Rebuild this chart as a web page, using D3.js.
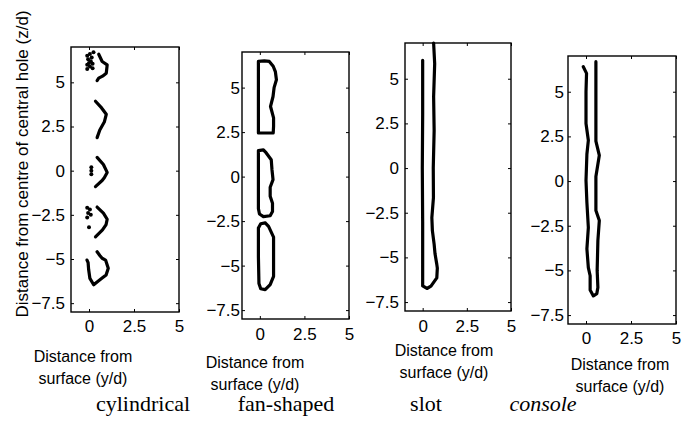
<!DOCTYPE html>
<html>
<head>
<meta charset="utf-8">
<script src="https://cdn.jsdelivr.net/npm/d3@7"></script>
<style>
  body { margin: 0; background: #fff; }
  svg { display: block; }
</style>
</head>
<body>
<svg id="chart" width="689" height="422"></svg>
<script>
const xTicks = [0, 2.5, 5];
const yTicks = [5, 2.5, 0, -2.5, -5, -7.5];
const xDomain = [-1, 5];
const yDomain = [-8, 7];
const captions = ['cylindrical', 'fan-shaped', 'slot', 'console'];
const xTitle = ['Distance from', 'surface (y/d)'];
const yTitle = 'Distance from centre of central hole (z/d)';

// traced outlines, [y/d, z/d]
const cylTraces = [
  [[0.54, 6.59], [0.73, 6.18], [1.01, 5.99], [0.96, 5.52], [0.75, 5.35], [0.54, 5.24], [0.45, 5.1]],
  [[0.36, 3.93], [0.7, 3.55], [0.96, 3.19], [0.85, 2.75], [0.6, 2.3], [0.45, 1.87]],
  [[0.45, 0.75], [0.8, 0.35], [1.01, -0.1], [0.85, -0.4], [0.73, -0.56], [0.36, -0.9]],
  [[0.45, -2.06], [0.8, -2.4], [1.01, -2.75], [0.95, -3.05], [0.75, -3.35], [0.36, -3.75]],
  [[0.45, -4.59], [0.6, -4.8], [0.73, -4.96], [0.92, -5.06], [1.07, -5.52], [0.95, -5.9],
   [0.73, -6.08], [0.45, -6.3], [0.26, -6.46], [0.05, -6.1], [-0.02, -5.6], [-0.05, -5.2], [-0.11, -5.06]]
];
const cylDots = [
  [-0.1, 6.5], [0.05, 6.6], [0.25, 6.7], [-0.05, 6.3], [0.1, 6.2], [-0.1, 6.0], [0.05, 5.9],
  [0.2, 5.8], [-0.1, 5.75], [0.15, 6.4], [0.0, 6.1], [0.2, 6.05],
  [0.13, 0.2], [0.13, 0.0], [0.13, -0.2],
  [-0.1, -2.1], [0.05, -2.2], [-0.05, -2.4], [0.1, -2.5], [-0.1, -2.65], [0.0, -3.2]
];
const fanTraces = [
  [[-0.08, 6.47], [0.25, 6.5], [0.53, 6.47], [0.75, 6.2], [0.87, 5.9], [0.93, 5.44], [0.8, 5.0],
   [0.74, 4.5], [0.6, 3.94], [0.77, 3.3], [0.77, 2.82], [0.75, 2.45], [0.3, 2.45], [-0.08, 2.45], [-0.08, 6.47]],
  [[-0.08, 1.46], [0.2, 1.5], [0.36, 1.33], [0.64, 0.95], [0.68, 0.4], [0.74, -0.17], [0.58, -0.6],
   [0.58, -1.1], [0.71, -1.5], [0.71, -1.96], [0.58, -2.2], [0.2, -2.25], [-0.02, -2.1], [-0.08, -1.8], [-0.08, 1.46]],
  [[0.3, -2.6], [0.49, -2.8], [0.77, -3.4], [0.77, -4.5], [0.77, -5.6], [0.58, -6.07], [0.3, -6.35],
   [0.05, -6.3], [-0.05, -6.0], [-0.08, -4.5], [-0.08, -2.89], [0.05, -2.65], [0.3, -2.6]]
];
const slotTraces = [
  [[0, 6.03], [0, 3], [-0.02, 0], [0, -3], [0, -5.5], [0, -6.6], [0.24, -6.74], [0.47, -6.61],
   [0.8, -6.15], [0.83, -5.6], [0.8, -5.39], [0.7, -4.8], [0.65, -4.27], [0.55, -3.5], [0.52, -2.78],
   [0.61, -1.65], [0.6, 0], [0.65, 2.1], [0.62, 4], [0.68, 5.84], [0.62, 7]]
];
const conTraces = [
  [[-0.15, 6.4], [0.03, 6.03], [0, 5], [0, 3.22], [0.13, 2.28], [0.05, 1.5], [0, 0.03], [0.05, -1.2],
   [0.13, -2.6], [0.05, -3.8], [0.13, -4.84], [0.23, -5.3], [0.23, -6.1], [0.41, -6.43], [0.6, -6.3],
   [0.66, -5.96], [0.62, -5], [0.66, -3.34], [0.74, -2.21], [0.55, -1.65], [0.55, 0.25], [0.74, 1.44],
   [0.55, 2.23], [0.55, 4.5], [0.55, 6.68]]
];

const traces = [cylTraces, fanTraces, slotTraces, conTraces];
const dots = [cylDots, [], [], []];

// panel placement (pixels)
const layout = [
  { x: 71, y: 47, w: 108, h: 265, ylPad: 6, xlPad: 8, tx: 83, ty: 362, cx: 143 },
  { x: 242, y: 52, w: 107, h: 267, ylPad: 2, xlPad: 9, tx: 255, ty: 368, cx: 286 },
  { x: 405, y: 43, w: 106, h: 268, ylPad: 6, xlPad: 9, tx: 444, ty: 356, cx: 426 },
  { x: 568, y: 56, w: 108, h: 268, ylPad: 4, xlPad: 8, tx: 620, ty: 370, cx: 543 }
];

const svg = d3.select('#chart');
const sans = 'Liberation Sans, Arial, sans-serif';

svg.append('rect').attr('width', 689).attr('height', 422).attr('fill', '#fff');

layout.forEach((p, i) => {
  const x = d3.scaleLinear().domain(xDomain).range([0, p.w]);
  const y = d3.scaleLinear().domain(yDomain).range([p.h, 0]);
  const g = svg.append('g').attr('transform', 'translate(' + p.x + ',' + p.y + ')');

  const styleAxis = a => {
    a.select('.domain').remove();
    a.selectAll('line').attr('stroke', '#000').attr('stroke-width', 1);
    a.attr('font-family', sans).attr('font-size', 17);
    a.selectAll('text').attr('fill', '#000');
  };

  g.append('g')
    .attr('transform', 'translate(0,' + p.h + ')')
    .call(d3.axisBottom(x).tickValues(xTicks).tickSize(-3).tickPadding(p.xlPad).tickFormat(d3.format('')))
    .call(styleAxis);
  g.append('g')
    .call(d3.axisTop(x).tickValues(xTicks).tickSize(-3).tickFormat(''))
    .call(styleAxis);
  g.append('g')
    .call(d3.axisLeft(y).tickValues(yTicks).tickSize(-3).tickPadding(p.ylPad).tickFormat(d3.format('')))
    .call(styleAxis);
  g.append('g')
    .attr('transform', 'translate(' + p.w + ',0)')
    .call(d3.axisRight(y).tickValues(yTicks).tickSize(-3).tickFormat(''))
    .call(styleAxis);

  g.append('rect')
    .attr('width', p.w).attr('height', p.h)
    .attr('fill', 'none').attr('stroke', '#000').attr('stroke-width', 1.4);

  const line = d3.line().x(d => x(d[0])).y(d => y(d[1]));
  g.selectAll('path.trace')
    .data(traces[i])
    .enter().append('path')
    .attr('class', 'trace')
    .attr('d', line)
    .attr('fill', 'none')
    .attr('stroke', '#000')
    .attr('stroke-width', 3.2)
    .attr('stroke-linejoin', 'round')
    .attr('stroke-linecap', 'round');

  g.selectAll('circle')
    .data(dots[i])
    .enter().append('circle')
    .attr('cx', d => x(d[0]))
    .attr('cy', d => y(d[1]))
    .attr('r', 2)
    .attr('fill', '#000');

  svg.append('text')
    .attr('x', p.tx).attr('y', p.ty)
    .attr('text-anchor', 'middle')
    .attr('font-family', sans).attr('font-size', 16)
    .selectAll('tspan')
    .data(xTitle)
    .enter().append('tspan')
    .attr('x', p.tx)
    .attr('dy', (d, k) => k ? '1.35em' : 0)
    .text(d => d);

  svg.append('text')
    .attr('x', p.cx).attr('y', 411)
    .attr('text-anchor', 'middle')
    .attr('font-family', 'Liberation Serif, Times New Roman, serif')
    .attr('font-size', 22)
    .attr('font-style', i === 3 ? 'italic' : 'normal')
    .text(captions[i]);
});

svg.append('text')
  .attr('transform', 'translate(28,164) rotate(-90)')
  .attr('text-anchor', 'middle')
  .attr('font-family', sans).attr('font-size', 17)
  .text(yTitle);
</script>
</body>
</html>
